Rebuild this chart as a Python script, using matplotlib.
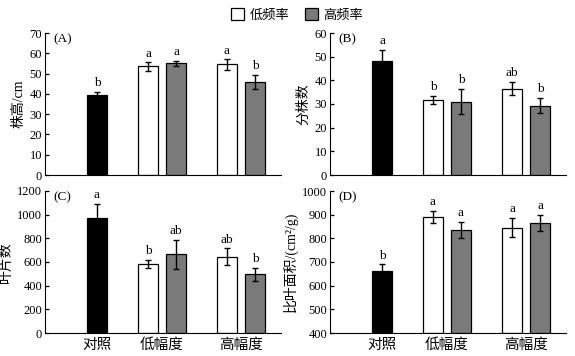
import matplotlib
matplotlib.use('Agg')
import matplotlib.pyplot as plt
from matplotlib.patches import Patch
import numpy as np

plt.rcParams['font.family'] = ['Liberation Serif', 'Noto Sans CJK SC']
plt.rcParams['font.size'] = 9.5

# 処理区 (x位置はピクセル相当)
groups = ['对照', '低幅度', '高幅度']
group_x = [52, 117, 196]
bar_x = [52, 103, 131, 182, 210]
bar_colors = ['black', 'white', '#7a7a7a', 'white', '#7a7a7a']

# (A) 株高
height = [39.5, 53.5, 55.0, 54.5, 46.0]
height_err = [1.5, 2.0, 1.3, 2.5, 3.5]
height_sig = ['b', 'a', 'a', 'a', 'b']
# (B) 分株数
tiller = [48.0, 31.7, 31.0, 36.5, 29.3]
tiller_err = [5.0, 1.8, 5.3, 2.7, 3.2]
tiller_sig = ['a', 'b', 'b', 'ab', 'b']
# (C) 叶片数
leaf = [970, 585, 665, 645, 495]
leaf_err = [120, 35, 125, 70, 55]
leaf_sig = ['a', 'b', 'ab', 'ab', 'b']
# (D) 比叶面积
sla = [660, 890, 835, 845, 865]
sla_err = [30, 25, 35, 40, 35]
sla_sig = ['b', 'a', 'a', 'a', 'a']

panels = [
    ('(A)', height, height_err, height_sig, '株高/cm', (0, 70), np.arange(0, 71, 10)),
    ('(B)', tiller, tiller_err, tiller_sig, '分株数', (0, 60), np.arange(0, 61, 10)),
    ('(C)', leaf, leaf_err, leaf_sig, '叶片数', (0, 1200), np.arange(0, 1201, 200)),
    ('(D)', sla, sla_err, sla_sig, '比叶面积/(cm²/g)', (400, 1000), np.arange(400, 1001, 100)),
]

W, H = 575, 356
fig = plt.figure(figsize=(W / 100, H / 100), dpi=100)
rects = [(45, 33), (330, 33), (45, 191), (330, 191)]

for i, (tag, vals, errs, sig, ylab, ylim, yt) in enumerate(panels):
    lx, ty = rects[i]
    ax = fig.add_axes([lx / W, (H - ty - 142) / H, 236 / W, 142 / H])
    lo = ylim[0]
    ax.bar(bar_x, np.array(vals) - lo, bottom=lo, width=20, color=bar_colors,
           edgecolor='black', linewidth=0.9, zorder=2)
    ax.errorbar(bar_x, vals, yerr=errs, fmt='none', ecolor='black',
                elinewidth=1.0, capsize=2.5, capthick=1.0, zorder=3)
    span = ylim[1] - ylim[0]
    for x, v, e, s in zip(bar_x, vals, errs, sig):
        ax.text(x, v + e + span * 0.02, s, ha='center', va='bottom', fontsize=9.5)
    ax.text(8, ylim[1], tag, ha='left', va='top', fontsize=9.5)
    ax.set_xlim(0, 236)
    ax.set_ylim(*ylim)
    ax.set_yticks(yt)
    ax.spines['top'].set_visible(False)
    ax.spines['right'].set_visible(False)
    ax.tick_params(axis='y', direction='in', length=3, width=0.9, pad=2, labelsize=9)
    ax.tick_params(axis='x', length=0, pad=4, labelsize=10.5)
    if i >= 2:
        ax.set_xticks(group_x)
        ax.set_xticklabels(groups)
    else:
        ax.set_xticks([])
    ax.set_ylabel(ylab, fontsize=10, labelpad=3)

handles = [Patch(facecolor='white', edgecolor='black', linewidth=0.9),
           Patch(facecolor='#7a7a7a', edgecolor='black', linewidth=0.9)]
fig.legend(handles, ['低频率', '高频率'], loc='center', bbox_to_anchor=(297 / W, 1 - 15 / H),
           ncol=2, frameon=False, handlelength=1.0, handleheight=1.0,
           handletextpad=0.4, columnspacing=1.2, fontsize=9.5)

fig.savefig('out.png', dpi=100)
